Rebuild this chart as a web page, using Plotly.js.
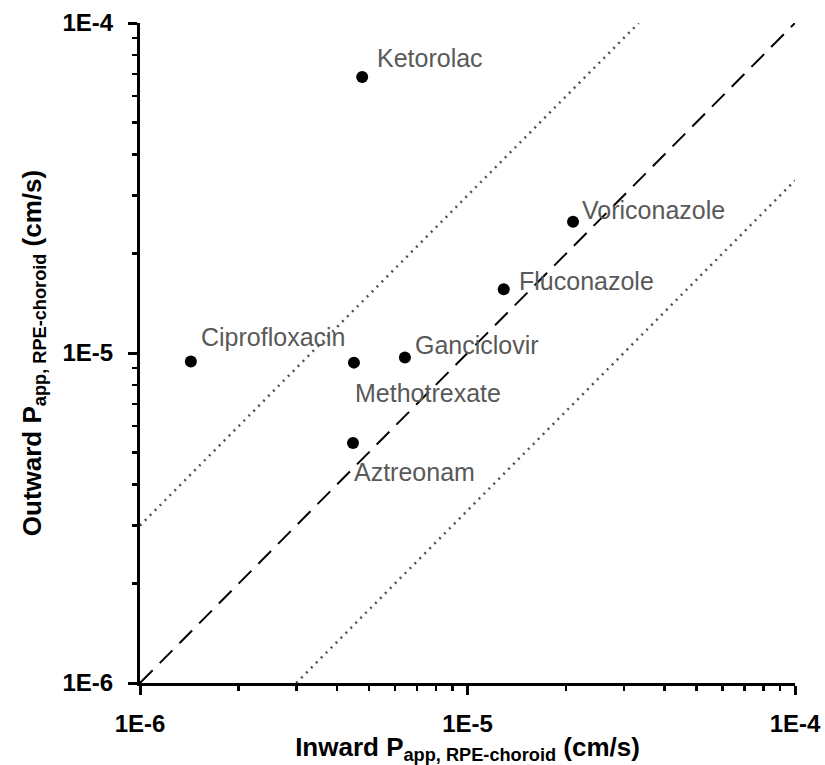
<!DOCTYPE html>
<html>
<head>
<meta charset="utf-8">
<script src="https://cdn.plot.ly/plotly-3.0.1.min.js"></script>
<style>html,body{margin:0;padding:0;background:#fff;}#chart{width:825px;height:765px;}</style>
</head>
<body>
<div id="chart"></div>
<script>
// Data
const drugs = ["Ketorolac", "Ciprofloxacin", "Methotrexate", "Ganciclovir", "Aztreonam", "Voriconazole", "Fluconazole"];
const inwardPapp = [4.77e-6, 1.43e-6, 4.50e-6, 6.44e-6, 4.47e-6, 2.10e-5, 1.29e-5];
const outwardPapp = [6.86e-5, 9.42e-6, 9.35e-6, 9.69e-6, 5.34e-6, 2.50e-5, 1.56e-5];
// label offsets (pixels) relative to each point
const labelDx = [13, 8, -1, 8, -1, 7, 13];
const labelDy = [19, 25, -30, 13, -29, 12, 8];
// reference lines: identity and 3-fold bounds
const unityX = [1e-6, 1e-4];
const unityY = [1e-6, 1e-4];
const upperX = [1e-6, 3.333e-5];
const upperY = [3e-6, 1e-4];
const lowerX = [3e-6, 1e-4];
const lowerY = [1e-6, 3.333e-5];
const majorTicks = [1e-6, 1e-5, 1e-4];
const majorTickText = ["1E-6", "1E-5", "1E-4"];
const minorTicks = [];
[1e-6, 1e-5].forEach(d => { for (let k = 2; k <= 9; k++) minorTicks.push(k * d); });

const traces = [
  {x: upperX, y: upperY, mode: "lines", line: {color: "#505050", width: 2.5, dash: "2px,5px"}, hoverinfo: "skip"},
  {x: lowerX, y: lowerY, mode: "lines", line: {color: "#505050", width: 2.5, dash: "2px,5px"}, hoverinfo: "skip"},
  {x: unityX, y: unityY, mode: "lines", line: {color: "#000", width: 2, dash: "18px,10px"}, hoverinfo: "skip"},
  {x: inwardPapp, y: outwardPapp, text: drugs, mode: "markers", marker: {color: "#000", size: 12}}
];

const annotations = drugs.map((d, i) => ({
  x: Math.log10(inwardPapp[i]), y: Math.log10(outwardPapp[i]), xref: "x", yref: "y",
  text: d, showarrow: false, xanchor: "left", yanchor: "middle",
  xshift: labelDx[i], yshift: labelDy[i],
  font: {family: "Liberation Sans, Arial, sans-serif", size: 25, color: "#595959"}
}));

const axisCommon = {
  type: "log",
  showgrid: false, zeroline: false,
  showline: true, linecolor: "#000", linewidth: 3,
  ticks: "outside", ticklen: 9, tickwidth: 3, tickcolor: "#000",
  tickmode: "array", tickvals: majorTicks, ticktext: majorTickText,
  tickfont: {family: "Liberation Sans, Arial, sans-serif", size: 24, color: "#000", weight: "bold"},
  minor: {tickmode: "array", tickvals: minorTicks, ticks: "outside", ticklen: 5, tickwidth: 2.5, tickcolor: "#000", showgrid: false},
  mirror: false
};

const layout = {
  width: 825, height: 765,
  margin: {l: 140, r: 30, t: 23, b: 82},
  paper_bgcolor: "#fff", plot_bgcolor: "#fff",
  showlegend: false,
  xaxis: Object.assign({}, axisCommon, {
    range: [-6, -4],
    ticklabelstandoff: 8,
    title: {text: "<b>Inward P<sub>app, RPE-choroid</sub> (cm/s)</b>", standoff: 2,
      font: {family: "Liberation Sans, Arial, sans-serif", size: 26, color: "#000"}}
  }),
  yaxis: Object.assign({}, axisCommon, {
    range: [-6, -4],
    ticklabelstandoff: 10,
    title: {text: "<b>Outward P<sub>app, RPE-choroid</sub> (cm/s)</b>", standoff: 14,
      font: {family: "Liberation Sans, Arial, sans-serif", size: 26, color: "#000"}}
  }),
  annotations: annotations
};

Plotly.newPlot("chart", traces, layout, {displayModeBar: false, staticPlot: true});
</script>
</body>
</html>
